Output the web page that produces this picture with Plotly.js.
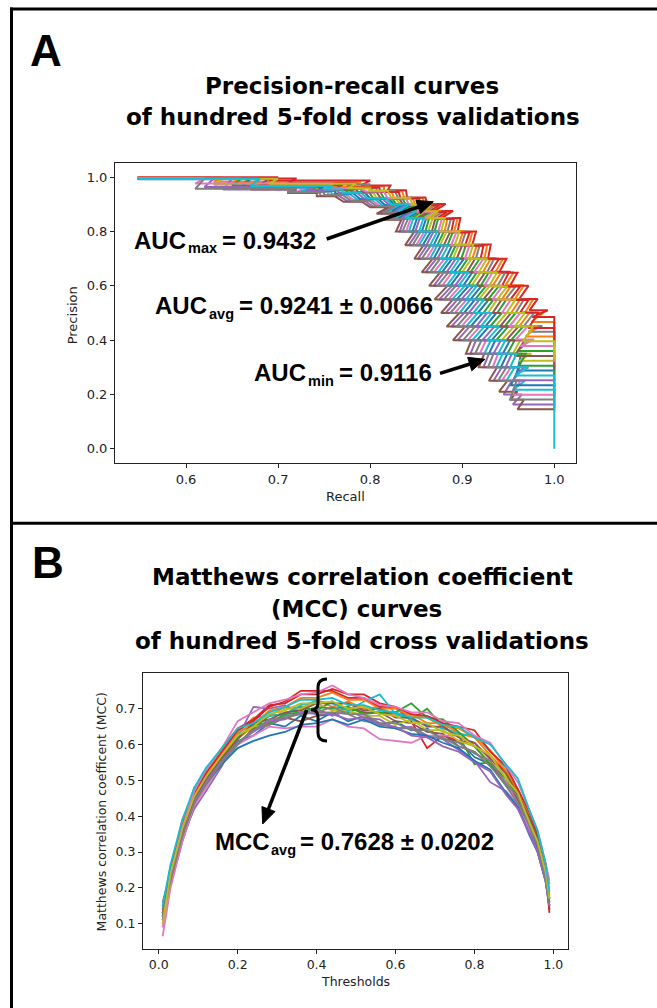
<!DOCTYPE html>
<html>
<head>
<meta charset="utf-8">
<script src="https://cdn.plot.ly/plotly-3.0.1.min.js"></script>
<style>html,body{margin:0;padding:0;background:#fff;}#chart{width:657px;height:1008px;}</style>
</head>
<body>
<div id="chart"></div>
<script>
// ---------- Panel A: precision-recall curves (steps: [recall from, recall to, precision]) ----------
const prCurve00 = [[.548,.70,.993],[.69,.765,.967],[.755,.775,.952],[.774,.794,.944],[.8,.82,.922],[.826,.846,.9],[.834,.854,.876],[.841,.861,.85],[.856,.876,.8],[.869,.889,.75],[.882,.902,.7],[.891,.911,.65],[.901,.921,.6],[.909,.929,.55],[.917,.937,.5],[.925,.945,.45],[.932,.952,.4],[.944,.964,.35],[.96,1.0,.288]];
const prCurve01 = [[.549,.64,.998],[.63,.79,.984],[.78,.815,.967],[.815,.835,.948],[.837,.857,.924],[.859,.879,.898],[.867,.887,.874],[.875,.895,.848],[.891,.911,.798],[.907,.927,.75],[.924,.944,.698],[.936,.956,.65],[.947,.967,.602],[.957,.977,.55],[.968,.988,.5],[.975,1.0,.467]];
const prCurve02 = [[.55,.67,.995],[.66,.78,.974],[.77,.79,.958],[.791,.811,.946],[.815,.835,.922],[.839,.859,.898],[.847,.867,.874],[.854,.874,.85],[.87,.89,.8],[.884,.904,.75],[.899,.919,.7],[.909,.929,.65],[.92,.94,.6],[.928,.948,.55],[.938,.958,.5],[.946,.966,.45],[.953,.973,.4],[.96,1.0,.36]];
const prCurve03 = [[.547,.70,1.0],[.69,.80,.988],[.79,.822,.97],[.819,.839,.952],[.84,.86,.926],[.862,.882,.902],[.87,.89,.876],[.878,.898,.85],[.895,.915,.80],[.911,.931,.752],[.928,.948,.70],[.94,.96,.648],[.952,.972,.6],[.962,.982,.552],[.973,.993,.51],[.976,1.0,.485]];
const prCurve04 = [[.549,.65,.995],[.64,.72,.955],[.71,.745,.944],[.746,.766,.932],[.775,.795,.912],[.803,.823,.892],[.81,.83,.868],[.817,.837,.845],[.832,.852,.8],[.842,.862,.75],[.852,.872,.7],[.86,.88,.65],[.869,.889,.6],[.875,.895,.55],[.882,.902,.5],[.888,.908,.45],[.895,.915,.4],[.909,.929,.35],[.923,.943,.3],[.934,.954,.25],[.945,.965,.2],[.955,1.0,.163]];
const prCurve05 = [[.55,.68,.995],[.67,.72,.955],[.71,.742,.942],[.742,.762,.93],[.771,.791,.91],[.8,.82,.89],[.807,.827,.866],[.814,.834,.844],[.828,.848,.8],[.838,.858,.75],[.848,.868,.7],[.856,.876,.65],[.864,.884,.6],[.87,.89,.55],[.877,.897,.5],[.883,.903,.45],[.89,.91,.4],[.904,.924,.35],[.918,.938,.3],[.929,.949,.25],[.94,.96,.21],[.952,.967,.18],[.96,1.0,.145]];
const prCurve06 = [[.548,.64,.996],[.63,.73,.96],[.72,.755,.946],[.754,.774,.936],[.782,.802,.916],[.81,.83,.895],[.817,.837,.872],[.824,.844,.848],[.839,.859,.8],[.85,.87,.75],[.861,.881,.7],[.869,.889,.65],[.878,.898,.6],[.885,.905,.55],[.892,.912,.5],[.899,.919,.45],[.906,.926,.4],[.919,.939,.35],[.933,.953,.3],[.943,.963,.25],[.954,1.0,.199]];
const prCurve07 = [[.55,.68,.994],[.67,.80,.974],[.79,.807,.96],[.807,.827,.95],[.83,.85,.925],[.852,.872,.9],[.86,.88,.874],[.868,.888,.85],[.884,.904,.8],[.899,.919,.75],[.915,.935,.702],[.927,.947,.65],[.938,.958,.598],[.947,.967,.55],[.958,.978,.5],[.967,.987,.452],[.972,1.0,.431]];
const prCurve08 = [[.55,.64,.996],[.63,.75,.973],[.74,.78,.955],[.783,.803,.944],[.808,.828,.92],[.833,.853,.9],[.84,.86,.874],[.848,.868,.85],[.863,.883,.8],[.876,.896,.75],[.89,.91,.7],[.9,.92,.65],[.91,.93,.6],[.918,.938,.55],[.928,.948,.5],[.936,.956,.45],[.943,.963,.4],[.955,.975,.35],[.962,1.0,.324]];
const prCurve09 = [[.549,.66,.995],[.65,.735,.962],[.725,.758,.948],[.758,.778,.938],[.786,.806,.918],[.813,.833,.896],[.82,.84,.874],[.827,.847,.85],[.842,.862,.8],[.853,.873,.75],[.865,.885,.7],[.874,.894,.65],[.883,.903,.6],[.889,.909,.55],[.897,.917,.5],[.904,.924,.45],[.911,.931,.4],[.924,.944,.35],[.937,.957,.3],[.948,.968,.25],[.955,1.0,.217]];
const prCurve10 = [[.548,.67,.994],[.66,.75,.964],[.74,.762,.95],[.762,.782,.94],[.789,.809,.92],[.816,.836,.898],[.824,.844,.875],[.831,.851,.85],[.846,.866,.8],[.857,.877,.75],[.869,.889,.7],[.878,.898,.65],[.887,.907,.6],[.894,.914,.55],[.902,.922,.5],[.909,.929,.45],[.916,.936,.4],[.929,.949,.35],[.942,.962,.3],[.953,1.0,.234]];
const prCurve11 = [[.547,.66,.997],[.65,.77,.98],[.76,.80,.965],[.803,.823,.948],[.826,.846,.924],[.849,.869,.898],[.857,.877,.876],[.864,.884,.85],[.881,.901,.802],[.896,.916,.75],[.911,.931,.7],[.922,.942,.648],[.933,.953,.6],[.943,.963,.55],[.953,.973,.5],[.962,.982,.452],[.969,1.0,.413]];
const prCurve12 = [[.549,.66,.995],[.65,.745,.97],[.735,.78,.952],[.779,.799,.944],[.804,.824,.92],[.829,.849,.898],[.836,.856,.874],[.844,.864,.848],[.86,.88,.8],[.873,.893,.75],[.886,.906,.7],[.896,.916,.65],[.906,.926,.6],[.914,.934,.55],[.923,.943,.5],[.93,.95,.45],[.937,.957,.4],[.949,.969,.35],[.962,1.0,.306]];
const prCurve13 = [[.548,.72,.996],[.71,.785,.978],[.775,.81,.962],[.811,.831,.946],[.833,.853,.922],[.855,.875,.897],[.863,.883,.872],[.871,.891,.846],[.888,.908,.797],[.903,.923,.748],[.92,.94,.7],[.931,.951,.652],[.943,.963,.598],[.952,.972,.548],[.963,.983,.502],[.972,1.0,.445]];
const prCurve14 = [[.55,.63,.995],[.62,.74,.964],[.73,.765,.952],[.766,.786,.942],[.793,.813,.922],[.82,.84,.9],[.827,.847,.875],[.834,.854,.85],[.849,.869,.8],[.861,.881,.75],[.873,.893,.7],[.883,.903,.65],[.892,.912,.6],[.899,.919,.55],[.907,.927,.5],[.915,.935,.45],[.922,.942,.4],[.934,.954,.35],[.947,.967,.3],[.955,1.0,.252]];
const prCurve15 = [[.547,.69,.994],[.68,.77,.972],[.76,.785,.955],[.787,.807,.945],[.812,.832,.92],[.836,.856,.897],[.843,.863,.873],[.851,.871,.85],[.867,.887,.8],[.88,.9,.75],[.894,.914,.7],[.905,.925,.65],[.915,.935,.6],[.923,.943,.55],[.933,.953,.5],[.941,.961,.45],[.948,.968,.4],[.957,1.0,.342]];
const prCurve16 = [[.548,.62,.997],[.61,.76,.977],[.75,.79,.96],[.795,.815,.948],[.819,.839,.922],[.842,.862,.898],[.85,.87,.873],[.858,.878,.848],[.874,.894,.8],[.888,.908,.75],[.903,.923,.7],[.913,.933,.65],[.924,.944,.6],[.933,.953,.55],[.943,.963,.5],[.951,.971,.45],[.958,.978,.402],[.963,1.0,.378]];
const prCurve17 = [[.55,.62,.995],[.61,.72,.958],[.71,.75,.945],[.75,.77,.935],[.779,.799,.914],[.807,.827,.893],[.814,.834,.87],[.821,.841,.846],[.835,.855,.8],[.846,.866,.75],[.856,.876,.7],[.865,.885,.65],[.873,.893,.6],[.88,.9,.55],[.887,.907,.5],[.894,.914,.45],[.901,.921,.4],[.914,.934,.35],[.928,.948,.3],[.939,.959,.25],[.952,1.0,.181]];
const prCurve18 = [[.549,.70,.995],[.69,.785,.976],[.775,.80,.96],[.799,.819,.95],[.823,.843,.925],[.846,.866,.9],[.854,.874,.875],[.861,.881,.85],[.877,.897,.8],[.892,.912,.752],[.907,.927,.7],[.918,.938,.65],[.929,.949,.598],[.938,.958,.55],[.948,.968,.5],[.957,.977,.45],[.966,1.0,.396]];
const prCurve19 = [[.547,.68,.995],[.67,.76,.968],[.75,.77,.955],[.77,.79,.943],[.797,.817,.922],[.823,.843,.9],[.83,.85,.875],[.838,.858,.85],[.853,.873,.8],[.865,.885,.75],[.877,.897,.7],[.887,.907,.65],[.896,.916,.6],[.904,.924,.55],[.912,.932,.5],[.92,.94,.45],[.927,.947,.4],[.939,.959,.35],[.952,.972,.3],[.958,1.0,.27]];
// precision each curve falls to at recall = 1.0
const prEndLow = [.23,.41,.30,.40,.14,.145,.16,.37,.27,.17,.19,.35,.25,.38,.20,.29,.32,.15,.33,0.0];
const prTickX = [0.6,0.7,0.8,0.9,1.0];
const prTickXText = ['0.6','0.7','0.8','0.9','1.0'];
const prTickY = [0.0,0.2,0.4,0.6,0.8,1.0];
const prTickYText = ['0.0','0.2','0.4','0.6','0.8','1.0'];

// ---------- Panel B: MCC curves ----------
const mccThresholds = [0.01,0.03,0.06,0.09,0.12,0.16,0.2,0.24,0.28,0.32,0.36,0.4,0.44,0.48,0.52,0.56,0.6,0.64,0.68,0.72,0.76,0.8,0.84,0.88,0.91,0.94,0.96,0.98,0.99];
const mcc00 = [0.14,0.25,0.37,0.46,0.50,0.555,0.61,0.625,0.66,0.65,0.68,0.665,0.69,0.665,0.68,0.655,0.665,0.64,0.645,0.615,0.61,0.565,0.545,0.485,0.445,0.37,0.31,0.23,0.16];
const mcc01 = [0.11,0.23,0.36,0.46,0.52,0.58,0.635,0.675,0.68,0.705,0.70,0.725,0.705,0.72,0.70,0.705,0.68,0.685,0.66,0.66,0.63,0.62,0.57,0.525,0.465,0.395,0.33,0.25,0.18];
const mcc02 = [0.13,0.26,0.38,0.47,0.51,0.57,0.625,0.645,0.68,0.685,0.705,0.695,0.72,0.69,0.705,0.685,0.69,0.67,0.70,0.65,0.625,0.545,0.55,0.49,0.45,0.37,0.32,0.24,0.17];
const mcc03 = [0.12,0.25,0.39,0.47,0.53,0.59,0.645,0.67,0.71,0.715,0.74,0.74,0.755,0.74,0.74,0.715,0.705,0.665,0.59,0.625,0.61,0.605,0.56,0.525,0.475,0.40,0.34,0.25,0.14];
const mcc04 = [0.10,0.22,0.34,0.42,0.47,0.54,0.62,0.705,0.70,0.71,0.685,0.70,0.68,0.695,0.675,0.67,0.645,0.65,0.625,0.615,0.585,0.555,0.495,0.47,0.43,0.36,0.30,0.22,0.15];
const mcc05 = [0.16,0.21,0.33,0.43,0.49,0.545,0.60,0.645,0.655,0.675,0.665,0.68,0.685,0.705,0.69,0.69,0.665,0.66,0.635,0.63,0.595,0.58,0.54,0.495,0.445,0.38,0.32,0.24,0.15];
const mcc06 = [0.065,0.20,0.33,0.43,0.48,0.55,0.60,0.625,0.65,0.645,0.65,0.65,0.67,0.65,0.645,0.615,0.61,0.605,0.625,0.625,0.625,0.595,0.565,0.495,0.435,0.365,0.33,0.27,0.22];
const mcc07 = [0.16,0.24,0.35,0.44,0.49,0.555,0.60,0.64,0.655,0.68,0.685,0.69,0.69,0.685,0.665,0.66,0.645,0.645,0.62,0.62,0.595,0.58,0.54,0.485,0.435,0.37,0.33,0.23,0.16];
const mcc08 = [0.09,0.22,0.35,0.44,0.50,0.565,0.615,0.65,0.66,0.70,0.70,0.715,0.695,0.695,0.68,0.68,0.655,0.67,0.64,0.64,0.61,0.595,0.55,0.515,0.455,0.39,0.34,0.25,0.18];
const mcc09 = [0.14,0.26,0.37,0.48,0.51,0.57,0.63,0.66,0.68,0.685,0.71,0.72,0.715,0.695,0.72,0.74,0.685,0.67,0.655,0.645,0.63,0.625,0.58,0.535,0.475,0.405,0.34,0.24,0.17];
const mcc10 = [0.11,0.23,0.35,0.44,0.49,0.545,0.59,0.61,0.625,0.635,0.655,0.66,0.67,0.655,0.67,0.65,0.645,0.63,0.625,0.605,0.59,0.555,0.53,0.465,0.425,0.345,0.30,0.22,0.14];
const mcc11 = [0.13,0.25,0.38,0.47,0.52,0.575,0.635,0.655,0.695,0.705,0.73,0.73,0.745,0.725,0.725,0.70,0.70,0.68,0.675,0.65,0.645,0.62,0.585,0.525,0.475,0.40,0.35,0.26,0.19];
const mcc12 = [0.12,0.245,0.37,0.455,0.505,0.56,0.62,0.655,0.66,0.685,0.69,0.705,0.70,0.705,0.685,0.69,0.69,0.715,0.675,0.67,0.635,0.595,0.545,0.505,0.455,0.38,0.32,0.23,0.16];
const mcc13 = [0.13,0.255,0.375,0.465,0.52,0.58,0.64,0.665,0.705,0.72,0.75,0.75,0.75,0.73,0.73,0.705,0.705,0.685,0.68,0.66,0.65,0.64,0.58,0.54,0.475,0.41,0.35,0.26,0.13];
const mcc14 = [0.11,0.23,0.355,0.44,0.50,0.555,0.605,0.635,0.665,0.67,0.69,0.685,0.685,0.67,0.675,0.655,0.65,0.625,0.62,0.595,0.58,0.55,0.525,0.46,0.42,0.35,0.30,0.22,0.15];
const mcc15 = [0.15,0.245,0.36,0.45,0.505,0.565,0.615,0.66,0.67,0.69,0.695,0.715,0.715,0.715,0.695,0.70,0.675,0.675,0.65,0.65,0.62,0.605,0.56,0.52,0.46,0.395,0.34,0.25,0.17];
const mcc16 = [0.09,0.24,0.37,0.47,0.53,0.59,0.665,0.69,0.715,0.725,0.74,0.745,0.765,0.74,0.73,0.71,0.705,0.69,0.69,0.665,0.66,0.625,0.605,0.54,0.495,0.415,0.36,0.27,0.21];
const mcc17 = [0.13,0.22,0.345,0.435,0.49,0.55,0.605,0.64,0.67,0.675,0.685,0.69,0.705,0.685,0.685,0.66,0.66,0.64,0.64,0.615,0.605,0.575,0.555,0.49,0.455,0.37,0.32,0.23,0.15];
const mcc18 = [0.10,0.24,0.365,0.455,0.51,0.57,0.625,0.65,0.685,0.695,0.715,0.715,0.72,0.70,0.705,0.685,0.68,0.66,0.66,0.635,0.625,0.595,0.57,0.505,0.465,0.38,0.33,0.245,0.17];
const mcc19 = [0.15,0.265,0.39,0.48,0.535,0.59,0.645,0.66,0.69,0.705,0.725,0.725,0.73,0.71,0.71,0.695,0.69,0.675,0.675,0.655,0.65,0.62,0.60,0.545,0.505,0.415,0.36,0.27,0.19];
const mccTickX = [0.0,0.2,0.4,0.6,0.8,1.0];
const mccTickXText = ['0.0','0.2','0.4','0.6','0.8','1.0'];
const mccTickY = [0.1,0.2,0.3,0.4,0.5,0.6,0.7];
const mccTickYText = ['0.1','0.2','0.3','0.4','0.5','0.6','0.7'];

// ---------- drawing ----------
const TAB10 = ['#1f77b4','#ff7f0e','#2ca02c','#d62728','#9467bd','#8c564b','#e377c2','#7f7f7f','#bcbd22','#17becf'];
const W = 657, H = 1008;
const X = v => v / W;
const Y = v => 1 - v / H;

const prCurves = [prCurve00,prCurve01,prCurve02,prCurve03,prCurve04,prCurve05,prCurve06,prCurve07,prCurve08,prCurve09,
                  prCurve10,prCurve11,prCurve12,prCurve13,prCurve14,prCurve15,prCurve16,prCurve17,prCurve18,prCurve19];
const mccCurves = [mcc00,mcc01,mcc02,mcc03,mcc04,mcc05,mcc06,mcc07,mcc08,mcc09,
                   mcc10,mcc11,mcc12,mcc13,mcc14,mcc15,mcc16,mcc17,mcc18,mcc19];

const traces = [];
prCurves.forEach((steps, i) => {
  const xs = [], ys = [];
  steps.forEach(s => { xs.push(s[0], s[1]); ys.push(s[2], s[2]); });
  xs.push(1.0); ys.push(prEndLow[i]);
  traces.push({x: xs, y: ys, type: 'scatter', mode: 'lines', xaxis: 'x', yaxis: 'y',
               line: {color: TAB10[i % 10], width: 2}, hoverinfo: 'skip'});
});
mccCurves.forEach((vals, i) => {
  traces.push({x: mccThresholds, y: vals, type: 'scatter', mode: 'lines', xaxis: 'x2', yaxis: 'y2',
               line: {color: TAB10[i % 10], width: 1.8}, hoverinfo: 'skip'});
});

const tickFontA = {family: 'DejaVu Sans', size: 13, color: '#222'};
const tickFontB = {family: 'DejaVu Sans', size: 12.5, color: '#222'};
const axisCommon = {showgrid: false, zeroline: false, showline: true, mirror: true, linecolor: '#222', linewidth: 1,
                    ticks: 'outside', ticklen: 4, tickwidth: 1, tickcolor: '#222', tickmode: 'array', fixedrange: true};

const titleFont = {family: 'DejaVu Sans', size: 23, color: '#000'};
const mainFont = {family: 'Liberation Sans, Arial', size: 24, color: '#000'};
const subFont = {family: 'Liberation Sans, Arial', size: 14.5, color: '#000'};
const letterFont = {family: 'Liberation Sans, Arial', size: 44, color: '#000'};

function txt(text, x, y, font, xanchor, extra) {
  return Object.assign({text: text, x: X(x), y: Y(y), xref: 'paper', yref: 'paper', showarrow: false,
          xanchor: xanchor || 'center', yanchor: 'middle', font: font}, extra || {});
}

const annotations = [
  txt('<b>A</b>', 46, 50, letterFont),
  txt('<b>B</b>', 47.5, 562, letterFont),
  txt('<b>Precision-recall curves</b>', 351.7, 86, titleFont),
  txt('<b>of hundred 5-fold cross validations</b>', 353.3, 116.5, titleFont),
  txt('<b>Matthews correlation coefficient</b>', 362.5, 576.5, titleFont),
  txt('<b>(MCC) curves</b>', 356, 608.5, titleFont),
  txt('<b>of hundred 5-fold cross validations</b>', 361.7, 641.3, titleFont),
  // AUC max
  txt('<b>AUC</b>', 131.7, 240, mainFont, 'left'),
  txt('<b>max</b>', 185.5, 248.3, subFont, 'left'),
  txt('<b>= 0.9432</b>', 220, 240, mainFont, 'left'),
  // AUC avg
  txt('<b>AUC</b>', 152.7, 305.7, mainFont, 'left'),
  txt('<b>avg</b>', 206.5, 314.3, subFont, 'left'),
  txt('<b>= 0.9241 ± 0.0066</b>', 236.7, 305.7, mainFont, 'left'),
  // AUC min
  txt('<b>AUC</b>', 251.7, 372.4, mainFont, 'left'),
  txt('<b>min</b>', 305.5, 380.7, subFont, 'left'),
  txt('<b>= 0.9116</b>', 336.7, 372.4, mainFont, 'left'),
  // MCC avg
  txt('<b>MCC</b>', 213.3, 841.7, mainFont, 'left'),
  txt('<b>avg</b>', 268.5, 850, subFont, 'left'),
  txt('<b>= 0.7628 ± 0.0202</b>', 298.3, 841.7, mainFont, 'left'),
  // axis titles
  txt('Recall', 345, 496, {family: 'DejaVu Sans', size: 13, color: '#222'}),
  txt('Precision', 72.3, 315, {family: 'DejaVu Sans', size: 13, color: '#222'}, 'center', {textangle: -90}),
  txt('Thresholds', 355, 981, {family: 'DejaVu Sans', size: 12.5, color: '#222'}),
  txt('Matthews correlation coefficent (MCC)', 101.7, 811.7, {family: 'DejaVu Sans', size: 12.5, color: '#222'}, 'center', {textangle: -90})
];

function P(x, y) { return X(x).toFixed(5) + ',' + Y(y).toFixed(5); }
const bracePath = 'M' + P(327, 679) + ' Q' + P(318, 679) + ' ' + P(318, 687) + ' L' + P(318, 703) +
                  ' Q' + P(318, 710) + ' ' + P(311, 710) + ' Q' + P(318, 710) + ' ' + P(318, 717) +
                  ' L' + P(318, 733) + ' Q' + P(318, 741) + ' ' + P(327, 741);

// arrows drawn as shapes: shaft + filled head (pixel geometry converted to paper)
function arrowShapes(hx, hy, tx, ty) {
  const dx = hx - tx, dy = hy - ty, L = Math.sqrt(dx * dx + dy * dy);
  const ux = dx / L, uy = dy / L, hl = 16, hw = 7;
  const bx = hx - ux * hl, by = hy - uy * hl;
  const p1x = bx - uy * hw, p1y = by + ux * hw, p2x = bx + uy * hw, p2y = by - ux * hw;
  return [
    {type: 'line', xref: 'paper', yref: 'paper', x0: X(tx), y0: Y(ty), x1: X(bx + ux * 2), y1: Y(by + uy * 2), line: {color: '#000', width: 3.5}},
    {type: 'path', xref: 'paper', yref: 'paper', path: 'M' + P(hx, hy) + ' L' + P(p1x, p1y) + ' L' + P(p2x, p2y) + ' Z',
     fillcolor: '#000', line: {color: '#000', width: 1}}
  ];
}

const shapes = [
  {type: 'line', xref: 'paper', yref: 'paper', x0: X(11.5), x1: X(11.5), y0: Y(7.5), y1: Y(1012), line: {color: '#000', width: 3}},
  {type: 'line', xref: 'paper', yref: 'paper', x0: X(10), x1: X(665), y0: Y(9), y1: Y(9), line: {color: '#000', width: 3}},
  {type: 'line', xref: 'paper', yref: 'paper', x0: X(10), x1: X(665), y0: Y(523.3), y1: Y(523.3), line: {color: '#000', width: 3}},
  {type: 'path', xref: 'paper', yref: 'paper', path: bracePath, line: {color: '#000', width: 3}}
].concat(arrowShapes(433.3, 201.7, 326.7, 239), arrowShapes(485, 359.3, 440, 373.3), arrowShapes(262.7, 824, 306.7, 710));

const layout = {
  width: W, height: H, margin: {l: 0, r: 0, t: 0, b: 0}, paper_bgcolor: '#fff', plot_bgcolor: '#fff', showlegend: false,
  xaxis: Object.assign({}, axisCommon, {domain: [X(115), X(576)], range: [0.5228, 1.0236], anchor: 'y',
          tickvals: prTickX, ticktext: prTickXText, tickfont: tickFontA}),
  yaxis: Object.assign({}, axisCommon, {domain: [Y(463), Y(163)], range: [-0.0527, 1.0527], anchor: 'x',
          tickvals: prTickY, ticktext: prTickYText, tickfont: tickFontA}),
  xaxis2: Object.assign({}, axisCommon, {domain: [X(143), X(568.3)], range: [-0.0398, 1.0378], anchor: 'y2',
          tickvals: mccTickX, ticktext: mccTickXText, tickfont: tickFontB}),
  yaxis2: Object.assign({}, axisCommon, {domain: [Y(948.7), Y(673.3)], range: [0.0302, 0.7988], anchor: 'x2',
          tickvals: mccTickY, ticktext: mccTickYText, tickfont: tickFontB}),
  annotations: annotations,
  shapes: shapes
};

Plotly.newPlot('chart', traces, layout, {staticPlot: true, displayModeBar: false});
</script>
</body>
</html>
